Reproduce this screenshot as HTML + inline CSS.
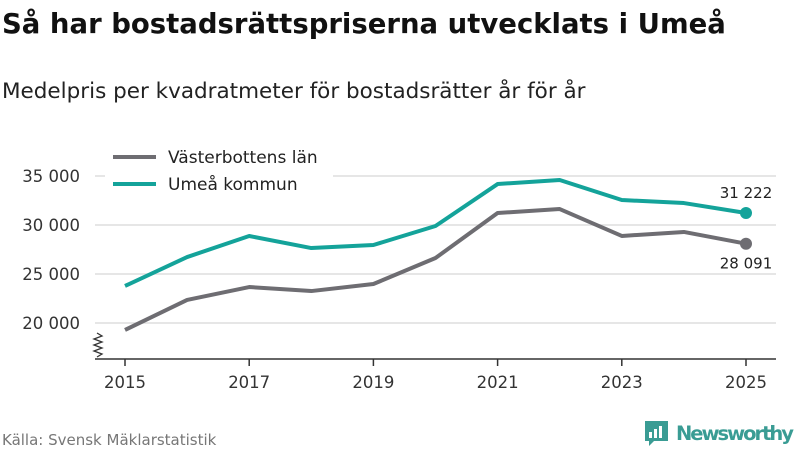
<!DOCTYPE html>
<html><head><meta charset="utf-8"><style>
body{margin:0;background:#fff;font-family:"Liberation Sans","DejaVu Sans",sans-serif;}
svg text{font-family:"DejaVu Sans","Liberation Sans",sans-serif;}
</style></head><body>
<svg width="800" height="450" viewBox="0 0 800 450" xmlns="http://www.w3.org/2000/svg">
<text x="2" y="33" font-size="27.5" font-weight="bold" fill="#111">Så har bostadsrättspriserna utvecklats i Umeå</text>
<text x="2" y="98" font-size="21.5" fill="#222">Medelpris per kvadratmeter för bostadsrätter år för år</text>
<g id="grid"></g><g id="lines"></g>
<path d="M97,333 l5,3 -8,3 8,3 -8,3 8,3 -8,3 8,3 -5,3" fill="none" stroke="#333" stroke-width="1.3"/>
<line x1="95" y1="359" x2="776" y2="359" stroke="#333" stroke-width="1.5"/>
<rect x="105" y="142" width="228" height="58" fill="#fff"/>
<line x1="113" y1="157" x2="156" y2="157" stroke="#6e6d72" stroke-width="4"/>
<text x="168" y="163" font-size="17" fill="#222">Västerbottens län</text>
<line x1="113" y1="184" x2="156" y2="184" stroke="#14a39a" stroke-width="4"/>
<text x="168" y="190" font-size="17" fill="#222">Umeå kommun</text>
<text x="2" y="445" font-size="15" fill="#777">Källa: Svensk Mäklarstatistik</text>
<g>
<path d="M645,421 h23 v20 h-14 l-5,5 v-5 h-4 z" fill="#3a9c94"/>
<rect x="649" y="432" width="3" height="6" fill="#fff"/><rect x="654" y="429" width="3" height="9" fill="#fff"/><rect x="659" y="426" width="3" height="12" fill="#fff"/>
<text x="676" y="440" font-size="19.5" font-weight="bold" fill="#3a9c94" textLength="118">Newsworthy</text>
</g>
</svg>
<script>
const years=[2015,2016,2017,2018,2019,2020,2021,2022,2023,2024,2025];
const vasterbotten=[19290,22350,23670,23260,23980,26630,31220,31630,28880,29290,28091];
const umea=[23780,26730,28880,27650,27960,29900,34180,34590,32550,32240,31222];
const yTicks=[20000,25000,30000,35000];
const xTicks=[2015,2017,2019,2021,2023,2025];
const NS='http://www.w3.org/2000/svg';
const x=v=>125+(v-2015)*62.1;
const y=v=>323-(v-20000)*49/5000;
const fmt=v=>String(v).replace(/\B(?=(\d{3})+(?!\d))/g,' ');
const grid=document.getElementById('grid'),lines=document.getElementById('lines');
function mk(t,a,p){const e=document.createElementNS(NS,t);for(const k in a)e.setAttribute(k,a[k]);p.appendChild(e);return e;}
yTicks.forEach(v=>{
 const l=mk('line',{x1:95,x2:776,y1:y(v),y2:y(v),stroke:'#ddd','stroke-width':1.5},grid);
 
 
 const t=mk('text',{x:80,y:y(v)+6,'font-size':16.5,fill:'#333','text-anchor':'end'},grid);t.textContent=fmt(v);
 
 
});
xTicks.forEach(v=>{
 const l=mk('line',{x1:x(v),x2:x(v),y1:359,y2:366,stroke:'#333','stroke-width':1.5},grid);
 
 
 const t=mk('text',{x:x(v),y:388,'font-size':16.5,fill:'#333','text-anchor':'middle'},grid);t.textContent=v;
 
 
});
function series(data,color,name,lblDy){
 const p=mk('polyline',{points:data.map((v,i)=>x(years[i])+','+y(v)).join(' '),fill:'none',stroke:color,'stroke-width':4,'stroke-linejoin':'round'},lines);
 
 
 const last=data[data.length-1],lx=x(years[years.length-1]);
 const c=mk('circle',{cx:lx,cy:y(last),r:6,fill:color},lines);
 
 
 const t=mk('text',{x:lx,y:y(last)+lblDy,'font-size':15,fill:'#222','text-anchor':'middle'},lines);t.textContent=fmt(last);
 
 
}
series(vasterbotten,'#6e6d72','vasterbotten',25);
series(umea,'#14a39a','umea',-15);
</script>
</body></html>
